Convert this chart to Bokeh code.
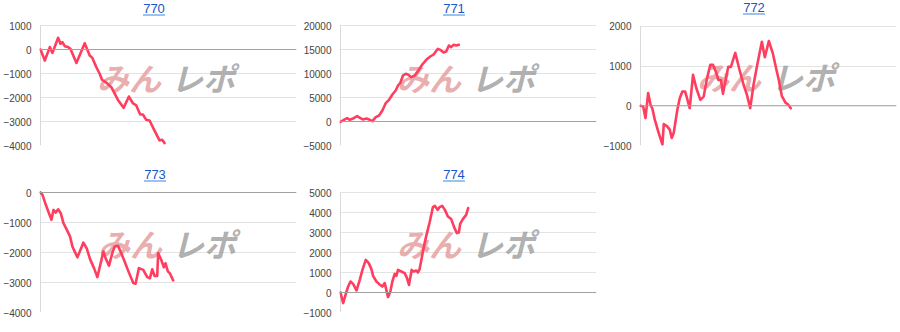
from bokeh.plotting import figure
from bokeh.layouts import column, row
from bokeh.models import Label, BoxAnnotation, Range1d, FixedTicker, Span
from bokeh.embed import file_html
from bokeh.resources import INLINE

titles = ["770", "771", "772", "773", "774"]

g770 = [0,130,280,360,530,600,660,730,830,900,1080,1330,1480,1560,1680,1780,1850,1980,2130,2330,2500,2660,2780,2880,3000,3080,3180,3280,3430,3580,3660,3730]
v770 = [0,-460,100,-140,490,240,310,140,100,30,-560,260,-250,-350,-740,-1010,-1260,-1380,-1570,-2100,-2430,-1960,-2240,-2330,-2710,-2710,-2930,-2960,-3380,-3790,-3760,-3900]

g771 = [0,130,200,280,360,500,600,680,780,880,960,1060,1160,1260,1360,1460,1560,1660,1730,1800,1880,1960,2030,2130,2230,2330,2460,2580,2700,2800,2930,3000,3100,3180,3260,3330,3400,3480,3560]
v771 = [-100,420,690,350,560,1110,690,420,630,350,70,900,1250,2290,3820,4510,5630,6460,7500,8060,9580,9930,9790,9240,9580,10490,11880,12850,13540,13960,15140,14930,14380,14580,15830,15490,15970,15830,15970]

g772 = [0,80,150,230,300,360,430,530,660,700,800,880,940,1000,1100,1180,1260,1340,1400,1480,1580,1680,1800,1900,2000,2100,2180,2280,2340,2420,2480,2580,2640,2720,2850,2980,3100,3200,3300,3400,3500,3650,3740,3860,3980,4080,4160,4250,4360,4440,4520]
v772 = [0,-20,-310,320,30,-80,-350,-640,-980,-460,-520,-600,-810,-680,-140,190,360,360,190,-60,780,440,150,230,690,1030,1030,830,650,650,300,730,980,980,1330,900,530,280,-60,530,980,1610,1220,1630,1320,940,650,250,80,30,-60]

g773 = [0,60,160,260,330,390,460,530,610,690,790,890,960,1030,1110,1210,1290,1390,1490,1610,1710,1810,1890,1960,2060,2160,2230,2330,2410,2530,2660,2790,2860,2960,3090,3210,3290,3360,3430,3510,3540,3630,3710,3760,3830,3890,3990]
v773 = [0,-80,-410,-710,-910,-580,-670,-560,-690,-1020,-1240,-1470,-1800,-1970,-2160,-1890,-1670,-1860,-2220,-2520,-2820,-2360,-1970,-2190,-2440,-2020,-1800,-1780,-1970,-2300,-2670,-3020,-3040,-2520,-2580,-2820,-2860,-2560,-2780,-2780,-2020,-2240,-2490,-2360,-2630,-2690,-2930]

g774 = [0,80,160,230,300,380,480,580,660,760,850,930,980,1080,1160,1260,1330,1430,1500,1560,1630,1680,1730,1830,1930,2000,2060,2140,2200,2280,2330,2380,2460,2530,2600,2680,2780,2840,2920,2980,3060,3140,3230,3330,3430,3500,3560,3600,3680,3780,3840]
v774 = [0,-530,-70,300,550,430,100,630,1130,1630,1470,1170,830,550,430,300,470,-230,50,550,930,830,1130,1050,970,720,380,1130,1050,1100,1000,1170,1880,2470,2970,3500,4270,4330,4130,4270,4330,4130,3800,3670,3220,2970,3000,3430,3670,3880,4220]

ticks770 = [-4000, -3000, -2000, -1000, 0, 1000]
ticks771 = [-5000, 0, 5000, 10000, 15000, 20000]
ticks772 = [-1000, 0, 1000, 2000]
ticks773 = [-4000, -3000, -2000, -1000, 0]
ticks774 = [-1000, 0, 1000, 2000, 3000, 4000, 5000]

X_MAX = 7700
GAMES_PER_PX = 30
LINE_COLOR = "#ff3d5f"
W, H = 300, 166


def panel(title, xs, ys, ticks, top, bottom, left):
    right = 4
    ymin, ymax = min(ticks), max(ticks)
    upp = (ymax - ymin) / (H - top - bottom)
    y_end = ymax + top * upp          # frame extends up to the canvas top (room for title)
    fl = left - 1                      # frame left edge (one px left of the baseline)
    p = figure(width=W, height=H, output_backend="svg", toolbar_location=None,
               x_range=Range1d(-GAMES_PER_PX, X_MAX), y_range=Range1d(ymin, y_end),
               min_border_left=fl, min_border_right=right,
               min_border_top=0, min_border_bottom=bottom)
    p.outline_line_color = None
    p.background_fill_color = "white"
    p.border_fill_color = "white"
    p.xaxis.visible = False
    p.xgrid.visible = False
    p.ygrid.grid_line_color = "#e3e3e3"
    p.ygrid.grid_line_width = 1
    ax = p.yaxis[0]
    ax.ticker = FixedTicker(ticks=ticks)
    ax.major_tick_line_color = None
    ax.minor_tick_line_color = None
    ax.major_tick_out = 0
    ax.major_tick_in = 0
    ax.axis_line_color = None
    ax.major_label_standoff = 8
    ax.major_label_text_font = "Liberation Sans"
    ax.major_label_text_font_size = "10px"
    ax.major_label_text_color = "#444444"

    fb = H - bottom  # frame bottom in canvas px

    # vertical baseline of the chart area
    p.segment(x0=[0], y0=[ymin], x1=[0], y1=[ymax], line_color="#d9d9d9", line_width=1)

    # watermark (logo-like)
    wm_y = fb - 76.5
    p.add_layout(Label(x=127.5 - fl, y=wm_y, x_units="screen", y_units="screen",
                       text="みん", text_font="Noto Sans CJK JP", text_font_size="32px",
                       text_font_style="bold italic", text_color="#e6a0a0", text_alpha=0.85,
                       text_align="center", text_baseline="middle", level="underlay"))
    p.add_layout(Label(x=201.5 - fl, y=wm_y, x_units="screen", y_units="screen",
                       text="レポ", text_font="Noto Sans CJK JP", text_font_size="32px",
                       text_font_style="bold italic", text_color="#a6a6a6", text_alpha=0.9,
                       text_align="center", text_baseline="middle", level="underlay"))

    p.add_layout(Span(location=0, dimension="width", line_color="#a0a0a0", line_width=1))
    p.line(xs, ys, line_color=LINE_COLOR, line_width=2.6, line_join="round", line_cap="round")

    # title (link style)
    p.add_layout(Label(x=152.5 - fl, y=fb - 8.3, x_units="screen", y_units="screen",
                       text=title, text_font="Liberation Sans", text_font_size="13px",
                       text_color="#1a56c8", text_align="center", text_baseline="middle"))
    p.add_layout(BoxAnnotation(left=141.5 - fl, right=163.5 - fl,
                               bottom=fb - 15, top=fb - 14,
                               left_units="screen", right_units="screen",
                               bottom_units="screen", top_units="screen",
                               fill_color="#3f86dd", fill_alpha=1.0, line_color=None,
                               level="overlay"))
    return p


p1 = panel(titles[0], g770, v770, ticks770, 25, 21, 39)
p2 = panel(titles[1], g771, v771, ticks771, 25, 21, 39)
p3 = panel(titles[2], g772, v772, ticks772, 26, 20, 39)
p4 = panel(titles[3], g773, v773, ticks773, 26, 20, 38)
p5 = panel(titles[4], g774, v774, ticks774, 26, 20, 39)

layout = column(row(p1, p2, p3), row(p4, p5))
open("out.html", "w").write(file_html(layout, INLINE))
